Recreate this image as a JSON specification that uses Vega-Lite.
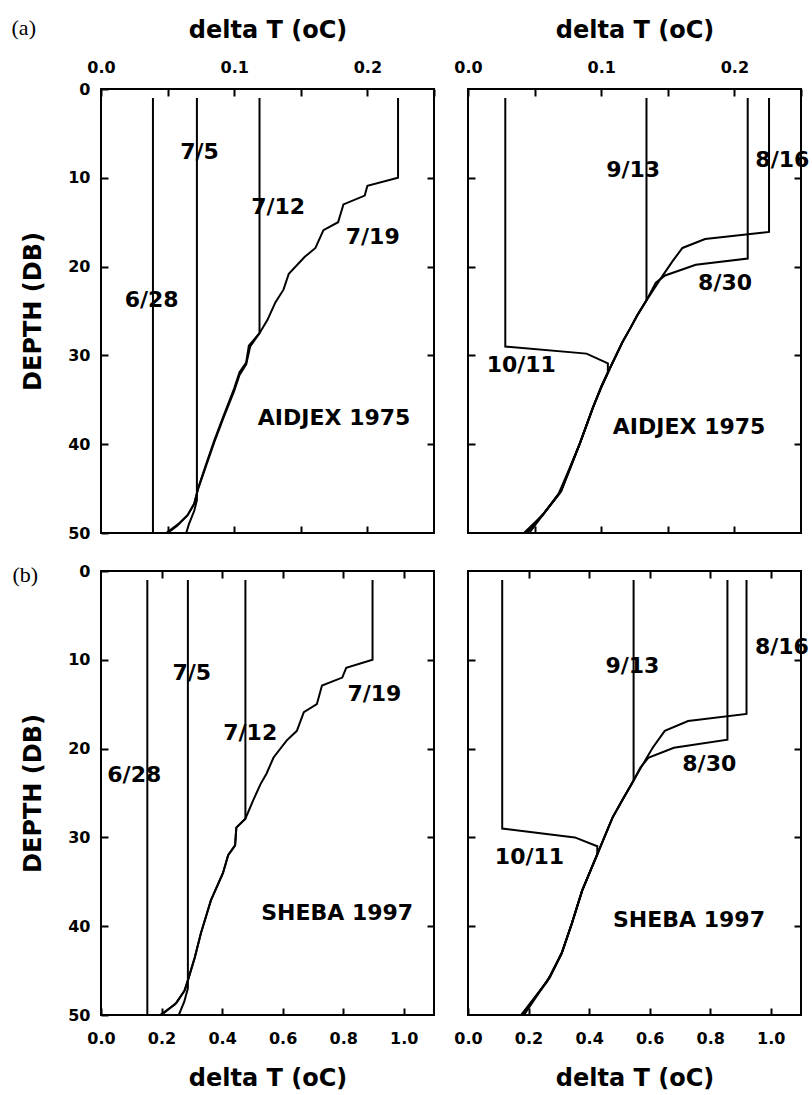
{
  "$schema": "https://vega.github.io/schema/vega-lite/v6.json",
  "padding": {"left": 10, "top": 15, "right": 5, "bottom": 5},
  "background": "white",
  "spacing": 20,
  "config": {
    "view": {"stroke": "black", "strokeWidth": 2},
    "axis": {
      "domain": false, "grid": false, "labelFlush": false, "labelOverlap": false,
      "tickColor": "black", "tickWidth": 2,
      "labelFont": "DejaVu Sans", "labelFontSize": 16, "labelFontWeight": "bold", "labelColor": "black",
      "titleFont": "DejaVu Sans", "titleFontSize": 24, "titleFontWeight": "bold", "titleColor": "black"
    },
    "text": {"font": "DejaVu Sans", "fontSize": 22, "fontWeight": "bold", "color": "black"},
    "line": {"color": "black", "strokeWidth": 2}
  },
  "datasets": {
    "lines": [
      {"p":"TL","id":"6/28","o":0,"x":0.039,"y":1},{"p":"TL","id":"6/28","o":1,"x":0.039,"y":50},
      {"p":"TL","id":"7/5","o":0,"x":0.072,"y":1},{"p":"TL","id":"7/5","o":1,"x":0.072,"y":46.3},{"p":"TL","id":"7/5","o":2,"x":0.070,"y":47.5},{"p":"TL","id":"7/5","o":3,"x":0.066,"y":49},{"p":"TL","id":"7/5","o":4,"x":0.064,"y":50},
      {"p":"TL","id":"7/12","o":0,"x":0.119,"y":1},{"p":"TL","id":"7/12","o":1,"x":0.119,"y":27.5},{"p":"TL","id":"7/12","o":2,"x":0.112,"y":29},{"p":"TL","id":"7/12","o":3,"x":0.109,"y":31},{"p":"TL","id":"7/12","o":4,"x":0.104,"y":32.2},{"p":"TL","id":"7/12","o":5,"x":0.100,"y":34},{"p":"TL","id":"7/12","o":6,"x":0.092,"y":37},{"p":"TL","id":"7/12","o":7,"x":0.085,"y":39.8},{"p":"TL","id":"7/12","o":8,"x":0.079,"y":42.4},{"p":"TL","id":"7/12","o":9,"x":0.073,"y":45},{"p":"TL","id":"7/12","o":10,"x":0.070,"y":46.7},{"p":"TL","id":"7/12","o":11,"x":0.065,"y":48},{"p":"TL","id":"7/12","o":12,"x":0.057,"y":49.2},{"p":"TL","id":"7/12","o":13,"x":0.050,"y":50},
      {"p":"TL","id":"7/19","o":0,"x":0.223,"y":1},{"p":"TL","id":"7/19","o":1,"x":0.223,"y":10},{"p":"TL","id":"7/19","o":2,"x":0.200,"y":10.9},{"p":"TL","id":"7/19","o":3,"x":0.198,"y":12},{"p":"TL","id":"7/19","o":4,"x":0.182,"y":13},{"p":"TL","id":"7/19","o":5,"x":0.178,"y":15},{"p":"TL","id":"7/19","o":6,"x":0.167,"y":15.9},{"p":"TL","id":"7/19","o":7,"x":0.161,"y":17.9},{"p":"TL","id":"7/19","o":8,"x":0.153,"y":18.9},{"p":"TL","id":"7/19","o":9,"x":0.141,"y":20.8},{"p":"TL","id":"7/19","o":10,"x":0.137,"y":22.6},{"p":"TL","id":"7/19","o":11,"x":0.131,"y":24},{"p":"TL","id":"7/19","o":12,"x":0.125,"y":26},{"p":"TL","id":"7/19","o":13,"x":0.119,"y":27.5},{"p":"TL","id":"7/19","o":14,"x":0.111,"y":28.9},{"p":"TL","id":"7/19","o":15,"x":0.109,"y":30.8},{"p":"TL","id":"7/19","o":16,"x":0.104,"y":31.9},{"p":"TL","id":"7/19","o":17,"x":0.100,"y":33.7},{"p":"TL","id":"7/19","o":18,"x":0.092,"y":36.8},{"p":"TL","id":"7/19","o":19,"x":0.085,"y":39.6},{"p":"TL","id":"7/19","o":20,"x":0.079,"y":42.2},{"p":"TL","id":"7/19","o":21,"x":0.073,"y":44.9},{"p":"TL","id":"7/19","o":22,"x":0.070,"y":46.7},{"p":"TL","id":"7/19","o":23,"x":0.065,"y":48},{"p":"TL","id":"7/19","o":24,"x":0.058,"y":49},{"p":"TL","id":"7/19","o":25,"x":0.049,"y":50},

      {"p":"TR","id":"10/11","o":0,"x":0.028,"y":1},{"p":"TR","id":"10/11","o":1,"x":0.028,"y":29.0},{"p":"TR","id":"10/11","o":2,"x":0.089,"y":29.8},{"p":"TR","id":"10/11","o":3,"x":0.105,"y":30.9},{"p":"TR","id":"10/11","o":4,"x":0.105,"y":31.9},{"p":"TR","id":"10/11","o":5,"x":0.100,"y":33.5},{"p":"TR","id":"10/11","o":6,"x":0.094,"y":35.8},{"p":"TR","id":"10/11","o":7,"x":0.084,"y":39.9},{"p":"TR","id":"10/11","o":8,"x":0.077,"y":42.6},{"p":"TR","id":"10/11","o":9,"x":0.070,"y":45.3},{"p":"TR","id":"10/11","o":10,"x":0.058,"y":47.6},{"p":"TR","id":"10/11","o":11,"x":0.044,"y":50},
      {"p":"TR","id":"9/13","o":0,"x":0.134,"y":1},{"p":"TR","id":"9/13","o":1,"x":0.134,"y":23.8},{"p":"TR","id":"9/13","o":2,"x":0.127,"y":25.5},{"p":"TR","id":"9/13","o":3,"x":0.122,"y":26.9},{"p":"TR","id":"9/13","o":4,"x":0.116,"y":28.5},{"p":"TR","id":"9/13","o":5,"x":0.107,"y":31.3},{"p":"TR","id":"9/13","o":6,"x":0.100,"y":33.6},{"p":"TR","id":"9/13","o":7,"x":0.094,"y":35.8},{"p":"TR","id":"9/13","o":8,"x":0.084,"y":39.9},{"p":"TR","id":"9/13","o":9,"x":0.077,"y":42.6},{"p":"TR","id":"9/13","o":10,"x":0.069,"y":45.5},{"p":"TR","id":"9/13","o":11,"x":0.057,"y":47.8},{"p":"TR","id":"9/13","o":12,"x":0.043,"y":50},
      {"p":"TR","id":"8/30","o":0,"x":0.210,"y":1},{"p":"TR","id":"8/30","o":1,"x":0.210,"y":19.1},{"p":"TR","id":"8/30","o":2,"x":0.171,"y":19.8},{"p":"TR","id":"8/30","o":3,"x":0.148,"y":21},{"p":"TR","id":"8/30","o":4,"x":0.141,"y":21.8},{"p":"TR","id":"8/30","o":5,"x":0.134,"y":23.8},{"p":"TR","id":"8/30","o":6,"x":0.127,"y":25.5},{"p":"TR","id":"8/30","o":7,"x":0.122,"y":26.9},{"p":"TR","id":"8/30","o":8,"x":0.116,"y":28.5},{"p":"TR","id":"8/30","o":9,"x":0.107,"y":31.3},{"p":"TR","id":"8/30","o":10,"x":0.100,"y":33.6},{"p":"TR","id":"8/30","o":11,"x":0.094,"y":35.8},{"p":"TR","id":"8/30","o":12,"x":0.084,"y":39.9},{"p":"TR","id":"8/30","o":13,"x":0.076,"y":42.8},{"p":"TR","id":"8/30","o":14,"x":0.068,"y":45.6},{"p":"TR","id":"8/30","o":15,"x":0.056,"y":48},{"p":"TR","id":"8/30","o":16,"x":0.042,"y":50},
      {"p":"TR","id":"8/16","o":0,"x":0.226,"y":1},{"p":"TR","id":"8/16","o":1,"x":0.226,"y":16.1},{"p":"TR","id":"8/16","o":2,"x":0.178,"y":16.9},{"p":"TR","id":"8/16","o":3,"x":0.161,"y":17.9},{"p":"TR","id":"8/16","o":4,"x":0.154,"y":19.3},{"p":"TR","id":"8/16","o":5,"x":0.144,"y":21.5},{"p":"TR","id":"8/16","o":6,"x":0.134,"y":23.8},{"p":"TR","id":"8/16","o":7,"x":0.127,"y":25.5},{"p":"TR","id":"8/16","o":8,"x":0.122,"y":26.9},{"p":"TR","id":"8/16","o":9,"x":0.116,"y":28.5},{"p":"TR","id":"8/16","o":10,"x":0.107,"y":31.3},{"p":"TR","id":"8/16","o":11,"x":0.100,"y":33.6},{"p":"TR","id":"8/16","o":12,"x":0.094,"y":35.8},{"p":"TR","id":"8/16","o":13,"x":0.084,"y":39.9},{"p":"TR","id":"8/16","o":14,"x":0.077,"y":42.5},{"p":"TR","id":"8/16","o":15,"x":0.070,"y":45.2},{"p":"TR","id":"8/16","o":16,"x":0.059,"y":47.4},{"p":"TR","id":"8/16","o":17,"x":0.046,"y":50},

      {"p":"BL","id":"6/28","o":0,"x":0.153,"y":1},{"p":"BL","id":"6/28","o":1,"x":0.153,"y":50},
      {"p":"BL","id":"7/5","o":0,"x":0.287,"y":1},{"p":"BL","id":"7/5","o":1,"x":0.287,"y":47},{"p":"BL","id":"7/5","o":2,"x":0.275,"y":48.5},{"p":"BL","id":"7/5","o":3,"x":0.257,"y":50},
      {"p":"BL","id":"7/12","o":0,"x":0.477,"y":1},{"p":"BL","id":"7/12","o":1,"x":0.477,"y":27.9},{"p":"BL","id":"7/12","o":2,"x":0.447,"y":28.9},{"p":"BL","id":"7/12","o":3,"x":0.443,"y":30.9},{"p":"BL","id":"7/12","o":4,"x":0.42,"y":32},{"p":"BL","id":"7/12","o":5,"x":0.403,"y":34},{"p":"BL","id":"7/12","o":6,"x":0.363,"y":37.1},{"p":"BL","id":"7/12","o":7,"x":0.33,"y":40.8},{"p":"BL","id":"7/12","o":8,"x":0.31,"y":43.5},{"p":"BL","id":"7/12","o":9,"x":0.287,"y":46.1},{"p":"BL","id":"7/12","o":10,"x":0.277,"y":47.2},{"p":"BL","id":"7/12","o":11,"x":0.25,"y":48.6},{"p":"BL","id":"7/12","o":12,"x":0.2,"y":50},
      {"p":"BL","id":"7/19","o":0,"x":0.897,"y":1},{"p":"BL","id":"7/19","o":1,"x":0.897,"y":10},{"p":"BL","id":"7/19","o":2,"x":0.81,"y":10.9},{"p":"BL","id":"7/19","o":3,"x":0.797,"y":12},{"p":"BL","id":"7/19","o":4,"x":0.73,"y":12.9},{"p":"BL","id":"7/19","o":5,"x":0.713,"y":15},{"p":"BL","id":"7/19","o":6,"x":0.67,"y":15.9},{"p":"BL","id":"7/19","o":7,"x":0.647,"y":18},{"p":"BL","id":"7/19","o":8,"x":0.613,"y":19.1},{"p":"BL","id":"7/19","o":9,"x":0.57,"y":21},{"p":"BL","id":"7/19","o":10,"x":0.547,"y":22.8},{"p":"BL","id":"7/19","o":11,"x":0.527,"y":24},{"p":"BL","id":"7/19","o":12,"x":0.503,"y":25.8},{"p":"BL","id":"7/19","o":13,"x":0.477,"y":27.9},{"p":"BL","id":"7/19","o":14,"x":0.447,"y":28.9},{"p":"BL","id":"7/19","o":15,"x":0.443,"y":30.9},{"p":"BL","id":"7/19","o":16,"x":0.42,"y":32},{"p":"BL","id":"7/19","o":17,"x":0.403,"y":34},{"p":"BL","id":"7/19","o":18,"x":0.363,"y":37.1},{"p":"BL","id":"7/19","o":19,"x":0.33,"y":40.8},{"p":"BL","id":"7/19","o":20,"x":0.31,"y":43.5},{"p":"BL","id":"7/19","o":21,"x":0.287,"y":46.1},{"p":"BL","id":"7/19","o":22,"x":0.275,"y":47.3},{"p":"BL","id":"7/19","o":23,"x":0.245,"y":48.8},{"p":"BL","id":"7/19","o":24,"x":0.195,"y":50},

      {"p":"BR","id":"10/11","o":0,"x":0.113,"y":1},{"p":"BR","id":"10/11","o":1,"x":0.113,"y":29},{"p":"BR","id":"10/11","o":2,"x":0.353,"y":30},{"p":"BR","id":"10/11","o":3,"x":0.427,"y":31},{"p":"BR","id":"10/11","o":4,"x":0.427,"y":31.9},{"p":"BR","id":"10/11","o":5,"x":0.377,"y":36},{"p":"BR","id":"10/11","o":6,"x":0.343,"y":39.7},{"p":"BR","id":"10/11","o":7,"x":0.31,"y":43},{"p":"BR","id":"10/11","o":8,"x":0.27,"y":45.8},{"p":"BR","id":"10/11","o":9,"x":0.177,"y":50},
      {"p":"BR","id":"9/13","o":0,"x":0.547,"y":1},{"p":"BR","id":"9/13","o":1,"x":0.547,"y":23.6},{"p":"BR","id":"9/13","o":2,"x":0.51,"y":25.8},{"p":"BR","id":"9/13","o":3,"x":0.477,"y":27.8},{"p":"BR","id":"9/13","o":4,"x":0.427,"y":31.9},{"p":"BR","id":"9/13","o":5,"x":0.377,"y":36},{"p":"BR","id":"9/13","o":6,"x":0.343,"y":39.7},{"p":"BR","id":"9/13","o":7,"x":0.31,"y":43},{"p":"BR","id":"9/13","o":8,"x":0.265,"y":46},{"p":"BR","id":"9/13","o":9,"x":0.18,"y":50},
      {"p":"BR","id":"8/30","o":0,"x":0.857,"y":1},{"p":"BR","id":"8/30","o":1,"x":0.857,"y":19},{"p":"BR","id":"8/30","o":2,"x":0.68,"y":19.9},{"p":"BR","id":"8/30","o":3,"x":0.597,"y":21},{"p":"BR","id":"8/30","o":4,"x":0.57,"y":22.1},{"p":"BR","id":"8/30","o":5,"x":0.547,"y":23.6},{"p":"BR","id":"8/30","o":6,"x":0.51,"y":25.8},{"p":"BR","id":"8/30","o":7,"x":0.477,"y":27.8},{"p":"BR","id":"8/30","o":8,"x":0.427,"y":31.9},{"p":"BR","id":"8/30","o":9,"x":0.377,"y":36},{"p":"BR","id":"8/30","o":10,"x":0.343,"y":39.7},{"p":"BR","id":"8/30","o":11,"x":0.308,"y":43.2},{"p":"BR","id":"8/30","o":12,"x":0.26,"y":46.3},{"p":"BR","id":"8/30","o":13,"x":0.175,"y":50},
      {"p":"BR","id":"8/16","o":0,"x":0.92,"y":1},{"p":"BR","id":"8/16","o":1,"x":0.92,"y":16.1},{"p":"BR","id":"8/16","o":2,"x":0.727,"y":16.9},{"p":"BR","id":"8/16","o":3,"x":0.65,"y":18},{"p":"BR","id":"8/16","o":4,"x":0.61,"y":19.9},{"p":"BR","id":"8/16","o":5,"x":0.56,"y":22.8},{"p":"BR","id":"8/16","o":6,"x":0.547,"y":23.6},{"p":"BR","id":"8/16","o":7,"x":0.51,"y":25.8},{"p":"BR","id":"8/16","o":8,"x":0.477,"y":27.8},{"p":"BR","id":"8/16","o":9,"x":0.427,"y":31.9},{"p":"BR","id":"8/16","o":10,"x":0.377,"y":36},{"p":"BR","id":"8/16","o":11,"x":0.343,"y":39.7},{"p":"BR","id":"8/16","o":12,"x":0.312,"y":42.8},{"p":"BR","id":"8/16","o":13,"x":0.272,"y":45.6},{"p":"BR","id":"8/16","o":14,"x":0.185,"y":50}
    ],
    "labels": [
      {"p":"TL","t":"6/28","x":0.038,"y":23.8},{"p":"TL","t":"7/5","x":0.074,"y":7.1},{"p":"TL","t":"7/12","x":0.133,"y":13.3},{"p":"TL","t":"7/19","x":0.204,"y":16.7},{"p":"TL","t":"AIDJEX 1975","x":0.175,"y":37.1},
      {"p":"TR","t":"9/13","x":0.124,"y":9.1},{"p":"TR","t":"8/16","x":0.236,"y":8.0},{"p":"TR","t":"8/30","x":0.193,"y":21.8},{"p":"TR","t":"10/11","x":0.040,"y":31.1},{"p":"TR","t":"AIDJEX 1975","x":0.166,"y":38.1},
      {"p":"BL","t":"6/28","x":0.11,"y":23},{"p":"BL","t":"7/5","x":0.30,"y":11.5},{"p":"BL","t":"7/12","x":0.493,"y":18.2},{"p":"BL","t":"7/19","x":0.903,"y":13.8},{"p":"BL","t":"SHEBA 1997","x":0.78,"y":38.5},
      {"p":"BR","t":"9/13","x":0.543,"y":10.7},{"p":"BR","t":"8/16","x":1.037,"y":8.6},{"p":"BR","t":"8/30","x":0.797,"y":21.7},{"p":"BR","t":"10/11","x":0.203,"y":32.2},{"p":"BR","t":"SHEBA 1997","x":0.73,"y":39.3}
    ],
    "tags": [
      {"p":"TL","t":"(a)","x":-0.058,"y":-6.9},
      {"p":"BL","t":"(b)","x":-0.25,"y":0.45}
    ]
  },
  "vconcat": [
    {
      "bounds": "flush",
      "spacing": 34,
      "hconcat": [
        {
          "width": 333, "height": 444,
          "layer": [
            {
              "data": {"name": "lines"},
              "transform": [{"filter": "datum.p == 'TL'"}],
              "mark": {"type": "line", "color": "black", "strokeWidth": 2},
              "encoding": {
                "x": {"field": "x", "type": "quantitative", "scale": {"domain": [0, 0.25], "nice": false, "zero": false},
                  "axis": {"orient": "top", "values": [0, 0.05, 0.1, 0.15, 0.2, 0.25], "labelExpr": "round(datum.value*20)%2==0 ? format(datum.value,'.1f') : ''", "title": "delta T (oC)", "tickSize": -7, "labelPadding": 21, "titlePadding": 17}},
                "y": {"field": "y", "type": "quantitative", "scale": {"domain": [0, 50], "reverse": true, "nice": false, "zero": false},
                  "axis": {"orient": "left", "values": [0, 10, 20, 30, 40, 50], "title": "DEPTH (DB)", "tickSize": -7, "labelPadding": 18, "titlePadding": 22}},
                "detail": {"field": "id"},
                "order": {"field": "o", "type": "quantitative"}
              }
            },
            {
              "data": {"name": "labels"},
              "transform": [{"filter": "datum.p == 'TL'"}],
              "mark": {"type": "text", "align": "center", "baseline": "middle"},
              "encoding": {
                "x": {"field": "x", "type": "quantitative", "scale": {"domain": [0, 0.25], "nice": false, "zero": false},
                  "axis": {"orient": "bottom", "values": [0.05, 0.1, 0.15, 0.2], "labels": false, "title": null, "tickSize": -7}},
                "y": {"field": "y", "type": "quantitative", "scale": {"domain": [0, 50], "reverse": true, "nice": false, "zero": false},
                  "axis": {"orient": "right", "values": [10, 20, 30, 40], "labels": false, "title": null, "tickSize": -7}},
                "text": {"field": "t"}
              }
            },
            {
              "data": {"name": "tags"},
              "transform": [{"filter": "datum.p == 'TL'"}],
              "mark": {"type": "text", "align": "center", "baseline": "middle", "font": "Liberation Serif", "fontSize": 22, "fontWeight": "normal"},
              "encoding": {
                "x": {"field": "x", "type": "quantitative", "axis": null},
                "y": {"field": "y", "type": "quantitative", "axis": null},
                "text": {"field": "t"}
              }
            }
          ],
          "resolve": {"axis": {"x": "independent", "y": "independent"}}
        },
        {
          "width": 333, "height": 444,
          "layer": [
            {
              "data": {"name": "lines"},
              "transform": [{"filter": "datum.p == 'TR'"}],
              "mark": {"type": "line", "color": "black", "strokeWidth": 2},
              "encoding": {
                "x": {"field": "x", "type": "quantitative", "scale": {"domain": [0, 0.25], "nice": false, "zero": false},
                  "axis": {"orient": "top", "values": [0, 0.05, 0.1, 0.15, 0.2, 0.25], "labelExpr": "round(datum.value*20)%2==0 ? format(datum.value,'.1f') : ''", "title": "delta T (oC)", "tickSize": -7, "labelPadding": 21, "titlePadding": 17}},
                "y": {"field": "y", "type": "quantitative", "scale": {"domain": [0, 50], "reverse": true, "nice": false, "zero": false},
                  "axis": {"orient": "left", "values": [10, 20, 30, 40], "labels": false, "title": null, "tickSize": -7}},
                "detail": {"field": "id"},
                "order": {"field": "o", "type": "quantitative"}
              }
            },
            {
              "data": {"name": "labels"},
              "transform": [{"filter": "datum.p == 'TR'"}],
              "mark": {"type": "text", "align": "center", "baseline": "middle"},
              "encoding": {
                "x": {"field": "x", "type": "quantitative", "scale": {"domain": [0, 0.25], "nice": false, "zero": false},
                  "axis": {"orient": "bottom", "values": [0.05, 0.1, 0.15, 0.2], "labels": false, "title": null, "tickSize": -7}},
                "y": {"field": "y", "type": "quantitative", "scale": {"domain": [0, 50], "reverse": true, "nice": false, "zero": false},
                  "axis": {"orient": "right", "values": [10, 20, 30, 40], "labels": false, "title": null, "tickSize": -7}},
                "text": {"field": "t"}
              }
            }
          ],
          "resolve": {"axis": {"x": "independent", "y": "independent"}}
        }
      ]
    },
    {
      "bounds": "flush",
      "spacing": 34,
      "hconcat": [
        {
          "width": 333, "height": 444,
          "layer": [
            {
              "data": {"name": "lines"},
              "transform": [{"filter": "datum.p == 'BL'"}],
              "mark": {"type": "line", "color": "black", "strokeWidth": 2},
              "encoding": {
                "x": {"field": "x", "type": "quantitative", "scale": {"domain": [0, 1.1], "nice": false, "zero": false},
                  "axis": {"orient": "bottom", "values": [0, 0.2, 0.4, 0.6, 0.8, 1.0], "format": ".1f", "title": "delta T (oC)", "tickSize": -7, "labelPadding": 22, "titlePadding": 20}},
                "y": {"field": "y", "type": "quantitative", "scale": {"domain": [0, 50], "reverse": true, "nice": false, "zero": false},
                  "axis": {"orient": "left", "values": [0, 10, 20, 30, 40, 50], "title": "DEPTH (DB)", "tickSize": -7, "labelPadding": 18, "titlePadding": 22}},
                "detail": {"field": "id"},
                "order": {"field": "o", "type": "quantitative"}
              }
            },
            {
              "data": {"name": "labels"},
              "transform": [{"filter": "datum.p == 'BL'"}],
              "mark": {"type": "text", "align": "center", "baseline": "middle"},
              "encoding": {
                "x": {"field": "x", "type": "quantitative", "scale": {"domain": [0, 1.1], "nice": false, "zero": false},
                  "axis": {"orient": "top", "values": [0.2, 0.4, 0.6, 0.8, 1.0], "labels": false, "title": null, "tickSize": -7}},
                "y": {"field": "y", "type": "quantitative", "scale": {"domain": [0, 50], "reverse": true, "nice": false, "zero": false},
                  "axis": {"orient": "right", "values": [10, 20, 30, 40], "labels": false, "title": null, "tickSize": -7}},
                "text": {"field": "t"}
              }
            },
            {
              "data": {"name": "tags"},
              "transform": [{"filter": "datum.p == 'BL'"}],
              "mark": {"type": "text", "align": "center", "baseline": "middle", "font": "Liberation Serif", "fontSize": 22, "fontWeight": "normal"},
              "encoding": {
                "x": {"field": "x", "type": "quantitative", "axis": null},
                "y": {"field": "y", "type": "quantitative", "axis": null},
                "text": {"field": "t"}
              }
            }
          ],
          "resolve": {"axis": {"x": "independent", "y": "independent"}}
        },
        {
          "width": 333, "height": 444,
          "layer": [
            {
              "data": {"name": "lines"},
              "transform": [{"filter": "datum.p == 'BR'"}],
              "mark": {"type": "line", "color": "black", "strokeWidth": 2},
              "encoding": {
                "x": {"field": "x", "type": "quantitative", "scale": {"domain": [0, 1.1], "nice": false, "zero": false},
                  "axis": {"orient": "bottom", "values": [0, 0.2, 0.4, 0.6, 0.8, 1.0], "format": ".1f", "title": "delta T (oC)", "tickSize": -7, "labelPadding": 22, "titlePadding": 20}},
                "y": {"field": "y", "type": "quantitative", "scale": {"domain": [0, 50], "reverse": true, "nice": false, "zero": false},
                  "axis": {"orient": "left", "values": [10, 20, 30, 40], "labels": false, "title": null, "tickSize": -7}},
                "detail": {"field": "id"},
                "order": {"field": "o", "type": "quantitative"}
              }
            },
            {
              "data": {"name": "labels"},
              "transform": [{"filter": "datum.p == 'BR'"}],
              "mark": {"type": "text", "align": "center", "baseline": "middle"},
              "encoding": {
                "x": {"field": "x", "type": "quantitative", "scale": {"domain": [0, 1.1], "nice": false, "zero": false},
                  "axis": {"orient": "top", "values": [0.2, 0.4, 0.6, 0.8, 1.0], "labels": false, "title": null, "tickSize": -7}},
                "y": {"field": "y", "type": "quantitative", "scale": {"domain": [0, 50], "reverse": true, "nice": false, "zero": false},
                  "axis": {"orient": "right", "values": [10, 20, 30, 40], "labels": false, "title": null, "tickSize": -7}},
                "text": {"field": "t"}
              }
            }
          ],
          "resolve": {"axis": {"x": "independent", "y": "independent"}}
        }
      ]
    }
  ]
}
